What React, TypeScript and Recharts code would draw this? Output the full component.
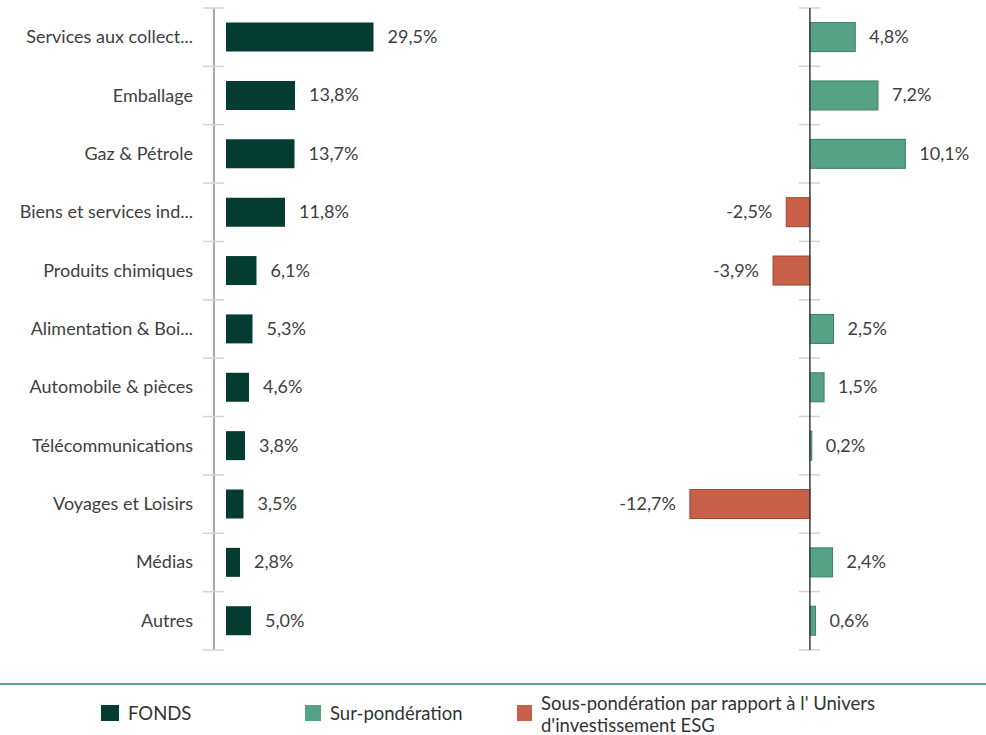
import React from 'react';
import { BarChart, Bar, XAxis, YAxis, ReferenceLine, LabelList } from 'recharts';

const categories = [
  'Services aux collect...',
  'Emballage',
  'Gaz & Pétrole',
  'Biens et services ind...',
  'Produits chimiques',
  'Alimentation & Boi...',
  'Automobile & pièces',
  'Télécommunications',
  'Voyages et Loisirs',
  'Médias',
  'Autres',
];
const fondsValues = [29.5, 13.8, 13.7, 11.8, 6.1, 5.3, 4.6, 3.8, 3.5, 2.8, 5.0];
const diffValues = [4.8, 7.2, 10.1, -2.5, -3.9, 2.5, 1.5, 0.2, -12.7, 2.4, 0.6];
const legendLabels = ['FONDS', 'Sur-pondération', "Sous-pondération par rapport à l' Univers d'investissement ESG"];

const data = categories.map((name, i) => ({ name, fonds: fondsValues[i], diff: diffValues[i] }));

const FONT = 'Lato, "Open Sans", sans-serif';
const C_FONDS = '#043c32';
const C_POS = '#56a287';
const C_POS_S = '#3d7c64';
const C_NEG = '#c9604a';
const C_NEG_S = '#9c4534';
const TEXT = '#404040';
const TICK = '#d4d4d4';
const FS = 18;

const CHART_H = 660;
const M_TOP = 8;
const M_BOT = 10;
const BAND = (CHART_H - M_TOP - M_BOT) / categories.length;
const N = categories.length;

const fmt = (v: number) => v.toFixed(1).replace('.', ',') + '%';

const LeftTick = (props: any) => {
  const { x, y, payload, index } = props;
  const ax = x + 21;
  return (
    <g>
      <text x={x} y={y} dy={6} textAnchor="end" fill={TEXT} fontSize={FS} fontFamily={FONT}>
        {payload.value}
      </text>
      <line x1={ax - 11} x2={ax + 10} y1={y - BAND / 2} y2={y - BAND / 2} stroke={TICK} strokeWidth={1.5} />
      {index === N - 1 && (
        <line x1={ax - 11} x2={ax + 10} y1={y + BAND / 2} y2={y + BAND / 2} stroke={TICK} strokeWidth={1.5} />
      )}
    </g>
  );
};

const RightShape = (props: any) => {
  const { x, y, width, height, payload, index } = props;
  const v = payload.diff;
  const left = Math.min(x, x + width);
  const w = Math.abs(width);
  const zero = v >= 0 ? left : left + w;
  const cy = y + height / 2;
  return (
    <g>
      <line x1={zero - 11} x2={zero + 10} y1={cy - BAND / 2} y2={cy - BAND / 2} stroke={TICK} strokeWidth={1.5} />
      {index === N - 1 && (
        <line x1={zero - 11} x2={zero + 10} y1={cy + BAND / 2} y2={cy + BAND / 2} stroke={TICK} strokeWidth={1.5} />
      )}
      <rect
        x={left}
        y={y}
        width={w}
        height={height}
        fill={v >= 0 ? C_POS : C_NEG}
        stroke={v >= 0 ? C_POS_S : C_NEG_S}
        strokeWidth={1}
      />
    </g>
  );
};

const LeftLabel = (props: any) => {
  const { x, y, width, height, value } = props;
  return (
    <text x={x + width + 14} y={y + height / 2} dy={6} fill={TEXT} fontSize={FS} fontFamily={FONT}>
      {fmt(value)}
    </text>
  );
};

const RightLabel = (props: any) => {
  const { x, y, width, height, value } = props;
  const left = Math.min(x, x + width);
  const w = Math.abs(width);
  if (value >= 0) {
    return (
      <text x={left + w + 14} y={y + height / 2} dy={6} fill={TEXT} fontSize={FS} fontFamily={FONT}>
        {fmt(value)}
      </text>
    );
  }
  return (
    <text x={left - 14} y={y + height / 2} dy={6} textAnchor="end" fill={TEXT} fontSize={FS} fontFamily={FONT}>
      {fmt(value)}
    </text>
  );
};

const legendColors = [C_FONDS, C_POS, C_NEG];
const LFS = 18.5;

export default function App() {
  return (
    <div style={{ position: 'absolute', left: 0, top: 0, width: 986, height: 735, background: '#fff', fontFamily: FONT }}>
      <div style={{ position: 'absolute', left: 0, top: 0 }}>
        <BarChart
          width={476}
          height={CHART_H}
          data={data}
          layout="vertical"
          margin={{ top: M_TOP, bottom: M_BOT, left: 0, right: 0 }}
          barCategoryGap="25%"
        >
          <XAxis type="number" domain={[-2.4, 50]} hide allowDataOverflow />
          <YAxis
            type="category"
            dataKey="name"
            width={214}
            tickLine={false}
            tickSize={0}
            tickMargin={21}
            axisLine={{ stroke: '#8a8a8a', strokeWidth: 1.5 }}
            tick={<LeftTick />}
            interval={0}
          />
          <Bar dataKey="fonds" fill={C_FONDS} isAnimationActive={false}>
            <LabelList dataKey="fonds" content={<LeftLabel />} />
          </Bar>
        </BarChart>
      </div>
      <div style={{ position: 'absolute', left: 602, top: 0 }}>
        <BarChart
          width={378}
          height={CHART_H}
          data={data}
          layout="vertical"
          margin={{ top: M_TOP, bottom: M_BOT, left: 0, right: 0 }}
          barCategoryGap="25%"
        >
          <XAxis type="number" domain={[-22, 18]} hide allowDataOverflow />
          <YAxis type="category" dataKey="name" hide width={0} />
          <Bar dataKey="diff" shape={<RightShape />} isAnimationActive={false}>
            <LabelList dataKey="diff" content={<RightLabel />} />
          </Bar>
          <ReferenceLine x={0} stroke="#3a3a3a" strokeWidth={1.5} />
        </BarChart>
      </div>
      <div style={{ position: 'absolute', left: 0, top: 683, width: 986, height: 2, background: '#5aa386' }} />
      <div style={{ position: 'absolute', left: 101, top: 705, width: 18, height: 16, background: legendColors[0] }} />
      <div style={{ position: 'absolute', left: 128, top: 702, fontSize: LFS, color: '#333', lineHeight: '22px' }}>{legendLabels[0]}</div>
      <div style={{ position: 'absolute', left: 305, top: 705, width: 16, height: 16, background: legendColors[1] }} />
      <div style={{ position: 'absolute', left: 330, top: 702, fontSize: LFS, color: '#333', lineHeight: '22px' }}>{legendLabels[1]}</div>
      <div style={{ position: 'absolute', left: 517, top: 705, width: 15, height: 16, background: legendColors[2] }} />
      <div style={{ position: 'absolute', left: 541, top: 692, width: 360, fontSize: LFS, color: '#333', lineHeight: '22px' }}>{legendLabels[2]}</div>
    </div>
  );
}
